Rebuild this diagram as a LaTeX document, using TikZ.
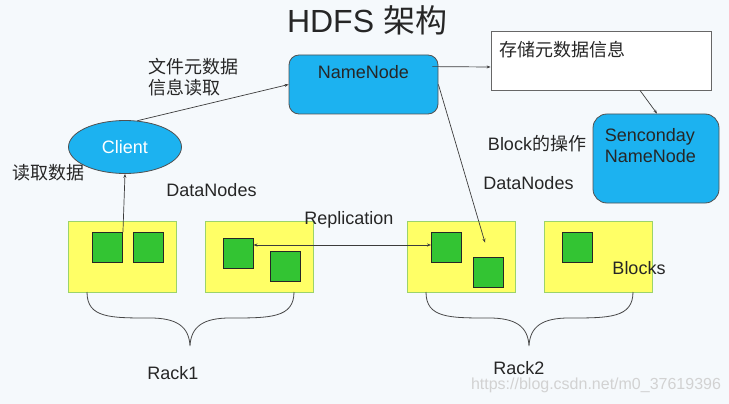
\documentclass[tikz,border=0pt]{standalone}
\usepackage{fontspec}
\setmainfont{Liberation Sans}
\newfontfamily\cjk{Noto Sans CJK SC}
\usetikzlibrary{shapes.geometric,arrows.meta}
\definecolor{bgcol}{HTML}{F5F9FC}
\definecolor{nncol}{HTML}{1CB2F0}
\definecolor{rackcol}{HTML}{FFFF66}
\definecolor{rackline}{HTML}{9CD36A}
\definecolor{blockcol}{HTML}{33C433}
\definecolor{inkcol}{HTML}{262626}

\begin{document}
\begin{tikzpicture}[x=1pt,y=-1pt,
    txt/.style={inner sep=0pt,text=inkcol,font=\fontsize{18}{21}\selectfont},
    cjktxt/.style={txt,font=\cjk\fontsize{18}{21}\selectfont},
    namebox/.style={draw=inkcol!80,line width=0.8pt,fill=nncol,rounded corners=10pt,inner sep=0pt},
    rackbox/.style={draw=rackline,line width=1pt,fill=rackcol,minimum width=108pt,minimum height=71pt,inner sep=0pt},
    blockbox/.style={draw=inkcol,line width=0.9pt,fill=blockcol,minimum width=30pt,minimum height=30pt,inner sep=0pt},
    arr/.style={draw=inkcol!90,line width=0.7pt,-{Stealth[length=4pt,width=3pt]}},
    brace/.style={draw=inkcol!85,line width=0.8pt}]
                          \fill[bgcol] (0,0) rectangle (729,404);
                          \useasboundingbox (0,0) rectangle (729,404);

                          \node[txt,font=\fontsize{32}{32}\selectfont] (title) at (367,20) {HDFS {\cjk 架构}};

                          \node[namebox,minimum width=149pt,minimum height=59pt,
                            label={[txt,anchor=north,yshift=-11pt]north:NameNode}] (namenode) at (363.5,84.5) {};
                          \node[draw=inkcol!70,fill=white,line width=0.8pt,minimum width=220pt,minimum height=59pt,inner sep=0pt,
                            label={[cjktxt,anchor=north west,xshift=9pt,yshift=-10pt]north west:存储元数据信息}] (meta) at (601,60.5) {};
                          \node[namebox,rounded corners=14pt,minimum width=126pt,minimum height=89pt,
                            label={[txt,anchor=north west,align=left,xshift=12pt,yshift=-15pt]north west:{Senconday\\NameNode}}] (secnn) at (656,158.5) {};
                          \node[ellipse,draw=inkcol!80,line width=0.8pt,fill=nncol,minimum width=113pt,minimum height=53pt,
                            inner sep=0pt,text=white,font=\fontsize{18}{21}\selectfont] (client) at (125,147) {Client};

                          \foreach \name/\cx in {dn1/122,dn2/259,dn3/461,dn4/598}
                            \node[rackbox] (\name) at (\cx,256.5) {};
                          \foreach \name/\cx/\cy in {b1a/107.5/247.5,b1b/148.5/247.5,b2a/238/253.5,b2b/285.5/266,
                                                     b3a/446.5/247.5,b3b/488/272,b4a/577/247.5}
                            \node[blockbox] (\name) at (\cx,\cy) {};

                          \draw[arr] (client.65) -- (namenode.west);
                          \draw[arr] ([xshift=-6pt,yshift=-12pt]namenode.north east) -- ([yshift=-6.5pt]meta.west);
                          \draw[arr] ([xshift=39pt]meta.south) -- ([xshift=1pt]secnn.north);
                          \draw[arr] (namenode.east) -- ([xshift=-3pt,yshift=14pt]b3b.north);
                          \draw[arr] (b1a.north east) -- (client.south);
                          \draw[arr,{Stealth[length=4pt,width=3pt]}-{Stealth[length=4pt,width=3pt]}]
                            ([yshift=8.5pt]b2a.east) -- ([yshift=2.5pt]b3a.west);

                          \foreach \bx in {0,339}
                            \draw[brace,shift={(\bx,0)}] (87,292) .. controls (87,318) and (110,318) .. (150,318)
                              .. controls (176,318) and (189,326) .. (190,346)
                              .. controls (191,326) and (204,318) .. (230,318)
                              .. controls (270,318) and (294,318) .. (294,292);

                          \node[cjktxt] (readdata) at (48.5,173) {读取数据};
                          \node[cjktxt,align=left,anchor=west] (metaread) at (148,77.5) {文件元数据\\信息读取};
                          \node[txt] (dnleft) at (211.5,190) {DataNodes};
                          \node[txt] (dnright) at (528.5,183) {DataNodes};
                          \node[txt] (blockop) at (537,144) {Block{\cjk 的操作}};
                          \node[txt] (repl) at (349,220) {Replication};
                          \node[txt] (blocks) at (639,268) {Blocks};
                          \node[txt] (rackone) at (173,373) {Rack1};
                          \node[txt] (racktwo) at (519,368) {Rack2};
                          \node[txt,text=gray!35,font=\fontsize{16}{16}\selectfont] (mark) at (596,385) {https://blog.csdn.net/m0\_37619396};
\end{tikzpicture}
\end{document}
